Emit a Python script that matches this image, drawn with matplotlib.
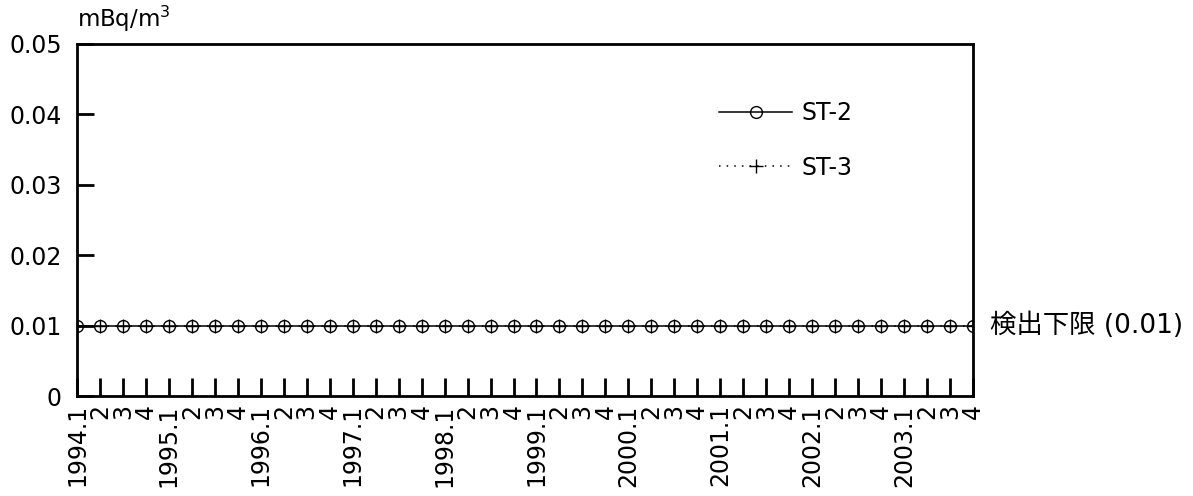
import matplotlib.pyplot as plt

plt.rcParams["font.family"] = ["DejaVu Sans", "Noto Sans CJK JP"]

# Quarters 1994.1 ... 2003.4
years = list(range(1994, 2004))
quarters = [1, 2, 3, 4]
tick_labels = []
for y in years:
    for q in quarters:
        tick_labels.append(f"{y}.{q}" if q == 1 else str(q))

# All results at the detection limit (0.01 mBq/m3)
st2 = [0.01] * 40
st3 = [0.01] * 40
detection_limit = 0.01

x = list(range(len(tick_labels)))

fig = plt.figure(figsize=(11.93, 4.96), dpi=100)
ax = fig.add_axes([77 / 1193, 100 / 496, 896 / 1193, 352 / 496])

ax.plot(x, st2, "-", color="black", lw=1.1, marker="o", ms=8.5,
        mfc="none", mec="black", mew=1.0, label="ST-2")
ax.plot(x, st3, color="black", lw=1.1, ls=(0, (1, 4)), marker="+", ms=10,
        mew=1.0, label="ST-3")

ax.set_xlim(0, 39)
ax.set_ylim(0, 0.05)
ax.set_yticks([0, 0.01, 0.02, 0.03, 0.04, 0.05])
ax.set_yticklabels(["0", "0.01", "0.02", "0.03", "0.04", "0.05"])
ax.set_xticks(x)
ax.set_xticklabels(tick_labels, rotation=90, va="top", ha="center")

ax.tick_params(axis="y", direction="in", length=12, width=2, labelsize=17, pad=11)
ax.tick_params(axis="x", direction="in", length=13, width=2, labelsize=17, pad=6)
for s in ax.spines.values():
    s.set_linewidth(2)

ax.text(0.0, 1.028, "mBq/m$^3$", transform=ax.transAxes, fontsize=16.5,
        ha="left", va="bottom")
ax.text(1.019, detection_limit, "検出下限 (0.01)", transform=ax.get_yaxis_transform(),
        fontsize=19, ha="left", va="center",
        family=["DejaVu Sans", "Noto Sans CJK JP"])

ax.legend(loc="upper left", bbox_to_anchor=(0.7165, 0.838), frameon=False,
          fontsize=17, handlelength=3.1, labelspacing=1.3, handletextpad=0.4,
          borderpad=0, borderaxespad=0)

fig.savefig("out.png", dpi=100)
